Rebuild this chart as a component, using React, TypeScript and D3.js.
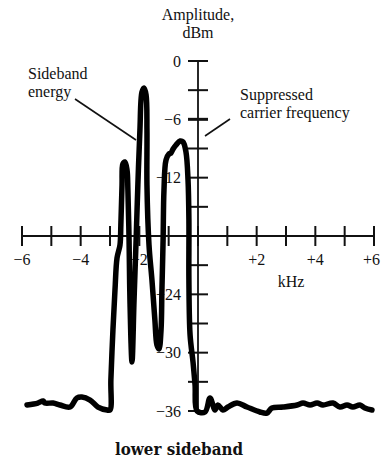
import React from "react";
import * as d3 from "d3";

// Frequency (kHz) of the traced spectrum
const freq: number[] = [
  -5.83, -5.46, -5.28, -5.22, -4.94, -4.71, -4.36, -4.13, -3.96, -3.68, -3.41, -3.1, -3.0,
  -2.97, -2.9, -2.83, -2.76, -2.66, -2.63, -2.59, -2.56, -2.49, -2.42, -2.39, -2.35, -2.32, -2.25,
  -2.18, -2.11, -2.05, -1.98, -1.91, -1.84, -1.77, -1.74, -1.74, -1.67, -1.57, -1.47, -1.4, -1.33,
  -1.26, -1.23, -1.19, -1.16, -1.09, -0.99, -0.92, -0.85, -0.75, -0.61, -0.51, -0.41, -0.34, -0.31,
  -0.31, -0.27, -0.17, -0.1, -0.03,
  0.24, 0.41, 0.58, 0.68, 0.85, 1.02, 1.33, 1.67, 2.11, 2.35, 2.52, 2.9, 3.38, 3.58, 3.82, 4.06,
  4.26, 4.6, 4.84, 5.08, 5.28, 5.52, 5.69, 5.93,
];
// Amplitude (dBm) of the traced spectrum
const amp: number[] = [
  -35.38, -35.18, -34.97, -35.18, -35.18, -35.38, -35.59, -34.66, -34.56, -34.87, -35.59, -35.9, -35.9,
  -32.81, -27.67, -23.55, -20.26, -18.93, -16.87, -12.75, -10.59, -10.39, -11.21, -13.27, -18.41, -24.58, -30.96,
  -24.58, -18.41, -12.75, -7.1, -3.19, -2.78, -3.5, -7.1, -12.75, -18.93, -22.53, -26.64, -29.21, -29.62,
  -27.67, -23.55, -18.41, -13.27, -10.18, -9.57, -9.46, -9.05, -8.64, -8.23, -8.33, -9.36, -12.24, -16.35,
  -22.53, -28.18, -30.96, -33.33, -36.0,
  -36.1, -34.66, -35.9, -35.38, -35.9, -35.59, -35.18, -35.59, -36.1, -36.21, -35.69, -35.59, -35.38, -35.18, -35.38, -35.18,
  -35.38, -35.18, -35.59, -35.38, -35.59, -35.38, -35.69, -35.9,
];

const xTicks: number[] = [-6, -5, -4, -3, -2, -1, 0, 1, 2, 3, 4, 5, 6];
const xTickLabels: { v: number; t: string }[] = [
  { v: -6, t: "\u22126" },
  { v: -4, t: "\u22124" },
  { v: -2, t: "\u22122" },
  { v: 2, t: "+2" },
  { v: 4, t: "+4" },
  { v: 6, t: "+6" },
];
const yTicks: number[] = [0, -3, -6, -9, -12, -15, -18, -21, -24, -27, -30, -33, -36];
const yTickLabels: { v: number; t: string }[] = [
  { v: 0, t: "0" },
  { v: -6, t: "\u22126" },
  { v: -12, t: "\u221212" },
  { v: -24, t: "\u221224" },
  { v: -30, t: "\u221230" },
  { v: -36, t: "\u221236" },
];

const W = 381;
const H = 458;
const serif = "'Liberation Serif', 'Times New Roman', serif";
const FS = 16;

export default function App() {
  const x = d3.scaleLinear().domain([-6, 6]).range([22, 374]);
  const y = d3.scaleLinear().domain([0, -36]).range([61, 411]);
  const x0 = x(0);
  const yAxisY = y(-18);

  const pts: [number, number][] = freq.map((f, i) => [f, amp[i]]);
  const line = d3
    .line<[number, number]>()
    .x((d) => x(d[0]))
    .y((d) => y(d[1]))
    .curve(d3.curveCatmullRom.alpha(0.5));

  return (
    <svg
      width={W}
      height={H}
      style={{ position: "absolute", left: 0, top: 0, background: "#fff" }}
      fontFamily={serif}
    >
      <rect x={0} y={0} width={W} height={H} fill="#fff" />
      {/* axis titles */}
      <text x={x0} y={20} fontSize={FS} textAnchor="middle" fill="#111">
        Amplitude,
      </text>
      <text x={x0} y={38} fontSize={FS} textAnchor="middle" fill="#111">
        dBm
      </text>
      <text x={291} y={287} fontSize={FS} textAnchor="middle" fill="#111">
        kHz
      </text>

      {/* annotations */}
      <text x={28} y={79} fontSize={FS} fill="#111">
        Sideband
      </text>
      <text x={28} y={97} fontSize={FS} fill="#111">
        energy
      </text>
      <line x1={75} y1={99} x2={136} y2={140} stroke="#111" strokeWidth={1.6} />
      <text x={240} y={99.5} fontSize={FS} fill="#111">
        Suppressed
      </text>
      <text x={240} y={117.5} fontSize={FS} fill="#111">
        carrier frequency
      </text>
      <line x1={205} y1={136} x2={230} y2={119} stroke="#111" strokeWidth={1.6} />

      {/* y axis */}
      <line x1={x0} y1={y(0) - 1} x2={x0} y2={y(-36) + 1} stroke="#111" strokeWidth={1.8} />
      {yTicks.map((v) => (
        <line
          key={"yt" + v}
          x1={x0 - 10}
          x2={x0 + 10}
          y1={y(v)}
          y2={y(v)}
          stroke="#111"
          strokeWidth={v === -6 ? 3 : 2}
        />
      ))}
      {yTickLabels.map((d) => (
        <text
          key={"yl" + d.v}
          x={181}
          y={y(d.v) + 5.5}
          fontSize={FS}
          textAnchor="end"
          fill="#111"
        >
          {d.t}
        </text>
      ))}

      {/* x axis */}
      <line x1={x(-6)} y1={yAxisY} x2={x(6)} y2={yAxisY} stroke="#111" strokeWidth={2.2} />
      {xTicks.map((v) => (
        <line
          key={"xt" + v}
          x1={x(v)}
          x2={x(v)}
          y1={yAxisY - 10}
          y2={yAxisY + 10}
          stroke="#111"
          strokeWidth={2}
        />
      ))}
      {xTickLabels.map((d) => (
        <text
          key={"xl" + d.v}
          x={d.v === 6 ? 380 : x(d.v)}
          y={265}
          fontSize={FS}
          textAnchor={d.v === 6 ? "end" : "middle"}
          fill="#111"
        >
          {d.t}
        </text>
      ))}

      {/* spectrum trace */}
      <path
        d={line(pts) || ""}
        fill="none"
        stroke="#000"
        strokeWidth={5.5}
        strokeLinejoin="round"
        strokeLinecap="round"
      />

      {/* caption */}
      <text
        x={179}
        y={455}
        fontSize={16}
        fontWeight="bold"
        textAnchor="middle"
        fontFamily="'DejaVu Serif', serif"
        textLength={128}
        lengthAdjust="spacingAndGlyphs"
        fill="#111"
      >
        lower sideband
      </text>
    </svg>
  );
}
